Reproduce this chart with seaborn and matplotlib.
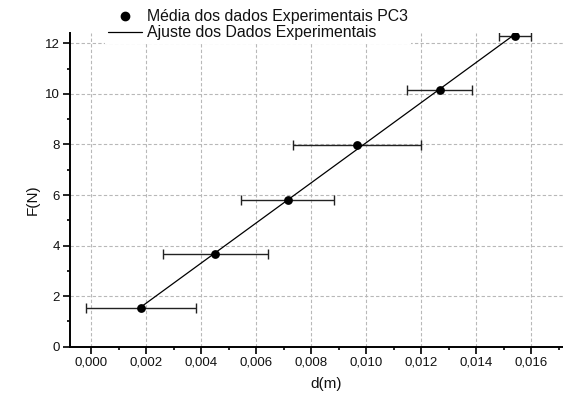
import numpy as np
import matplotlib
matplotlib.use("Agg")
import matplotlib.pyplot as plt
from matplotlib.ticker import MultipleLocator, FuncFormatter
from matplotlib.lines import Line2D
import seaborn as sns

# Mean displacement (m), its uncertainty, and mean force (N)
d_mean = [0.00181, 0.00452, 0.00715, 0.00966, 0.01267, 0.01541]
d_err = [0.00200, 0.00191, 0.00168, 0.00233, 0.00117, 0.00059]
f_mean = [1.52, 3.68, 5.81, 7.99, 10.14, 12.29]

label_points = "Média dos dados Experimentais PC3"
label_fit = "Ajuste dos Dados Experimentais"

sns.set_theme(style="white")
plt.rcParams["font.family"] = ["Liberation Sans", "DejaVu Sans"]

fig = plt.figure(figsize=(5.63, 4.0), dpi=100)
ax = fig.add_axes([70 / 563, 53.3 / 400, 493 / 563, 313.7 / 400])

# Least-squares line through the means, drawn over the measured range
slope, intercept = np.polyfit(d_mean, f_mean, 1)
x_fit = np.array([min(d_mean), max(d_mean)])
y_fit = slope * x_fit + intercept
sns.lineplot(x=x_fit, y=y_fit, ax=ax, color="black", linewidth=0.9, zorder=3)

ax.errorbar(d_mean, f_mean, xerr=d_err, fmt="none", ecolor="#222222",
            elinewidth=1.0, capsize=3.8, capthick=1.0, zorder=2)
sns.scatterplot(x=d_mean, y=f_mean, ax=ax, color="black", s=40,
                edgecolor="black", linewidth=0, zorder=4)

ax.set_xlim(-0.000764, 0.01716)
ax.set_ylim(0, 12.41)

ax.xaxis.set_major_locator(MultipleLocator(0.002))
ax.xaxis.set_minor_locator(MultipleLocator(0.001))
ax.yaxis.set_major_locator(MultipleLocator(2))
ax.yaxis.set_minor_locator(MultipleLocator(1))
ax.xaxis.set_major_formatter(FuncFormatter(lambda v, p: f"{abs(v):.3f}".replace(".", ",")))
ax.yaxis.set_major_formatter(FuncFormatter(lambda v, p: f"{v:.0f}"))

ax.tick_params(axis="both", which="major", direction="out", length=4.8, width=1.2,
               color="black", labelsize=9.5, labelcolor="#111111", pad=2.4,
               bottom=True, left=True)
ax.tick_params(axis="both", which="minor", direction="out", length=2.4, width=1.2,
               color="black", bottom=True, left=True)

ax.grid(True, which="major", color="#b8b8b8", linestyle=(0, (3, 2)), linewidth=0.8)
ax.set_axisbelow(True)

for side in ["top", "right"]:
    ax.spines[side].set_visible(False)
for side in ["left", "bottom"]:
    ax.spines[side].set_color("black")
    ax.spines[side].set_linewidth(1.4)

ax.set_xlabel("d(m)", fontsize=11, color="#111111")
ax.set_ylabel("F(N)", fontsize=11, color="#111111")
ax.xaxis.set_label_coords((326 - 70) / 493, -0.095)
ax.yaxis.set_label_coords(-0.062, 0.47)

handles = [
    Line2D([], [], marker="o", color="black", linestyle="none", markersize=6),
    Line2D([], [], color="black", linewidth=0.9),
]
leg = ax.legend(handles, [label_points, label_fit], loc="upper left",
                bbox_to_anchor=(105.3 / 563, 1 - 6.0 / 400), bbox_transform=fig.transFigure,
                fontsize=11.4, frameon=True, facecolor="white", edgecolor="none",
                framealpha=1.0, fancybox=False, handlelength=2.1,
                handletextpad=0.32, labelspacing=0.08, borderpad=0.2,
                borderaxespad=0.0)
leg.set_zorder(10)
for t in leg.get_texts():
    t.set_color("#111111")

fig.savefig("out.png", dpi=100)
